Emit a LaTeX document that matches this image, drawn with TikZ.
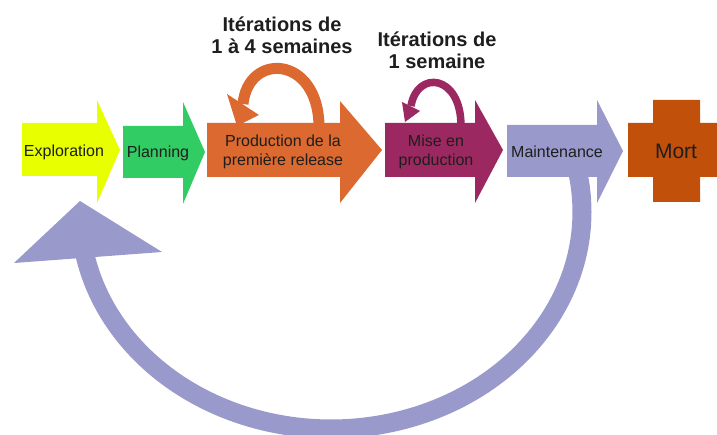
\documentclass[tikz,border=0pt]{standalone}
\usepackage{fontspec}
\setmainfont{Liberation Sans}
\definecolor{yel}{RGB}{232,255,0}
\definecolor{grn}{RGB}{50,204,100}
\definecolor{orng}{RGB}{219,105,48}
\definecolor{purp}{RGB}{155,40,96}
\definecolor{lav}{RGB}{153,153,204}
\definecolor{mort}{RGB}{192,80,10}
\definecolor{txt}{RGB}{30,30,30}
\begin{document}
\begin{tikzpicture}[x=1pt,y=-1pt,
  lbl/.style={inner sep=0pt,align=center,text=txt,font=\fontsize{16}{19}\selectfont},
  title/.style={inner sep=0pt,align=center,text=txt,font=\fontsize{20}{22}\selectfont\bfseries}]
\useasboundingbox (0,0) rectangle (717,435);
\fill[white] (0,0) rectangle (717,435);
% big return arc
\draw[lav, line width=19] plot[domain=-14:171, samples=120] ({331+251*cos(\x)},{212+217*sin(\x)});
\fill[lav] (80,201) -- (14,263) -- (162,252) -- cycle;
% small loops
\draw[orng, line width=11] (319,126) .. controls (318,55) and (248,52) .. (243,104);
\fill[orng] (227,94) -- (259,115) -- (237,126) -- cycle;
\draw[purp, line width=7.5] (461,126) .. controls (461,74) and (417,70) .. (411,106);
\fill[purp] (402,102) -- (420,111) -- (405,122) -- cycle;
% arrows
\fill[yel] (22,123) -- (97,123) -- (97,100) -- (120,150) -- (97,203) -- (97,176) -- (22,176) -- cycle;
\fill[grn] (123,126) -- (183,126) -- (183,102) -- (205,152) -- (183,204) -- (183,178) -- (123,178) -- cycle;
\fill[orng] (207,123) -- (340,123) -- (340,101) -- (382,150) -- (340,203) -- (340,177) -- (207,177) -- cycle;
\fill[purp] (385,123) -- (475,123) -- (475,100) -- (503,150) -- (475,203) -- (475,177) -- (385,177) -- cycle;
\fill[lav] (507,125) -- (597,125) -- (597,100) -- (623,151) -- (597,203) -- (597,177) -- (507,177) -- cycle;
\fill[mort] (653,100) -- (700,100) -- (700,123) -- (717,123) -- (717,177) -- (700,177) -- (700,202) -- (653,202) -- (653,177) -- (628,177) -- (628,123) -- (653,123) -- cycle;
% texts
\node[lbl] (explo) at (64,152) {Exploration};
\node[lbl] (plan) at (158,153) {Planning};
\node[lbl] (prod) at (283,152) {Production de la\\première release};
\node[lbl] (mise) at (436,152) {Mise en\\production};
\node[lbl] (maint) at (557,152) {Maintenance};
\node[lbl, font=\fontsize{21}{24}\selectfont] (mrt) at (676,151) {Mort};
\node[title] (it1) at (282,35) {Itérations de\\1 à 4 semaines};
\node[title] (it2) at (437,50) {Itérations de\\1 semaine};
\end{tikzpicture}
\end{document}
